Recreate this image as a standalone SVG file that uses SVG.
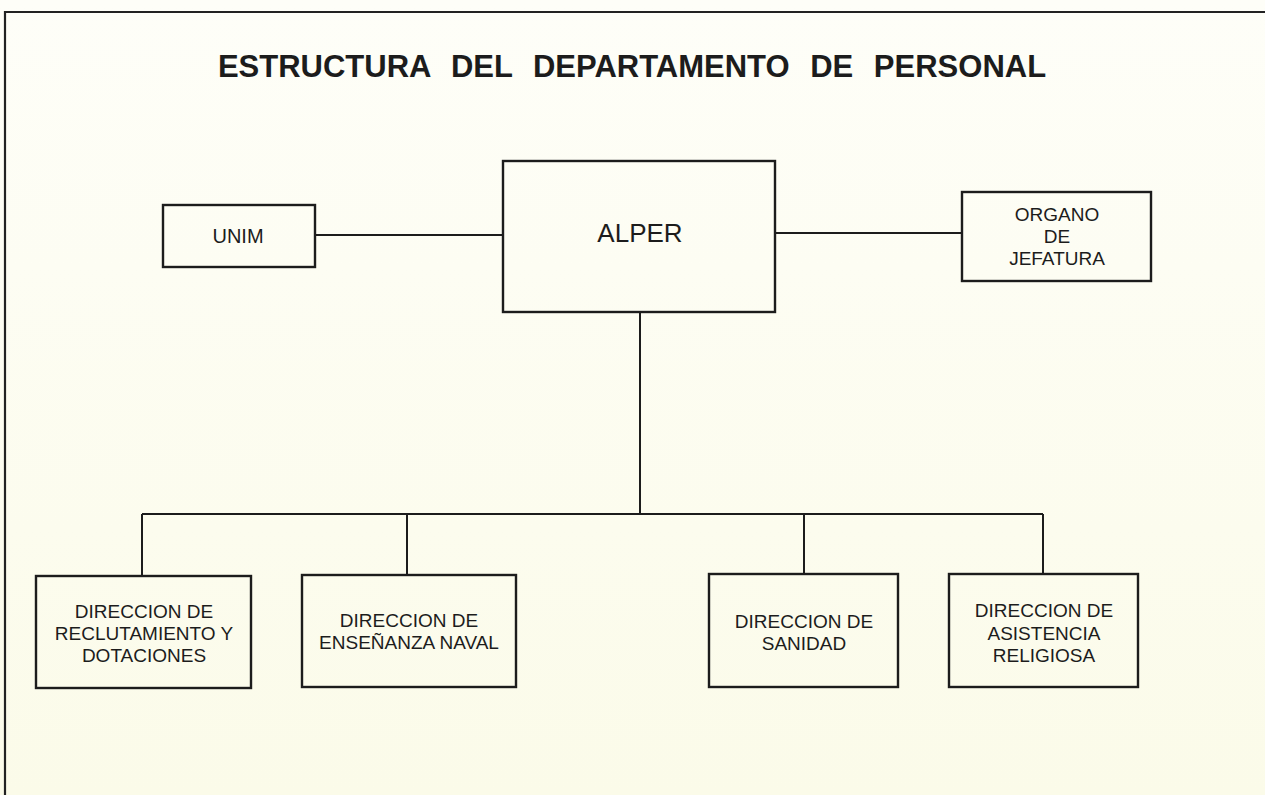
<svg xmlns="http://www.w3.org/2000/svg" width="1265" height="795" viewBox="0 0 1265 795">
<defs>
<linearGradient id="bg" x1="0" y1="0" x2="0" y2="1">
<stop offset="0" stop-color="#fefef8"/>
<stop offset="1" stop-color="#fbfbe9"/>
</linearGradient>
<style>
.box{fill:none;stroke:#1c1c1c;stroke-width:2.4}
.ln{fill:none;stroke:#1c1c1c;stroke-width:2}
.t{font-family:"Liberation Sans",Arial,sans-serif;fill:#1c1c1c;text-anchor:middle}
.s{font-size:19px}
</style>
</defs>
<rect x="0" y="0" width="1265" height="795" fill="url(#bg)"/>
<path d="M5,795 V12 H1265" fill="none" stroke="#222" stroke-width="2.2"/>
<text class="t" x="632" y="77" font-size="31" font-weight="bold" word-spacing="12">ESTRUCTURA DEL DEPARTAMENTO DE PERSONAL</text>
<g id="connectors">
<line class="ln" x1="315" y1="235" x2="503" y2="235"/>
<line class="ln" x1="775" y1="233" x2="962" y2="233"/>
<line class="ln" x1="640" y1="312" x2="640" y2="514"/>
<line class="ln" x1="142" y1="514" x2="1043" y2="514"/>
<line class="ln" x1="142" y1="514" x2="142" y2="576"/>
<line class="ln" x1="407" y1="514" x2="407" y2="575"/>
<line class="ln" x1="804" y1="514" x2="804" y2="574"/>
<line class="ln" x1="1043" y1="514" x2="1043" y2="574"/>
</g>
<g id="alper">
<rect class="box" x="503" y="161" width="272" height="151"/>
<text class="t" x="640" y="242" font-size="26">ALPER</text>
</g>
<g id="unim">
<rect class="box" x="163" y="205" width="152" height="62"/>
<text class="t" x="238" y="243" font-size="20">UNIM</text>
</g>
<g id="organo">
<rect class="box" x="962" y="192" width="189" height="89"/>
<text class="t s" x="1057" y="221">ORGANO</text>
<text class="t s" x="1057" y="243">DE</text>
<text class="t s" x="1057" y="265">JEFATURA</text>
</g>
<g id="reclutamiento">
<rect class="box" x="36" y="576" width="215" height="112"/>
<text class="t s" x="144" y="618">DIRECCION DE</text>
<text class="t s" x="144" y="640">RECLUTAMIENTO Y</text>
<text class="t s" x="144" y="662">DOTACIONES</text>
</g>
<g id="ensenanza">
<rect class="box" x="302" y="575" width="214" height="112"/>
<text class="t s" x="409" y="627">DIRECCION DE</text>
<text class="t s" x="409" y="649">ENSEÑANZA NAVAL</text>
</g>
<g id="sanidad">
<rect class="box" x="709" y="574" width="189" height="113"/>
<text class="t s" x="804" y="628">DIRECCION DE</text>
<text class="t s" x="804" y="650">SANIDAD</text>
</g>
<g id="religiosa">
<rect class="box" x="949" y="574" width="189" height="113"/>
<text class="t s" x="1044" y="617">DIRECCION DE</text>
<text class="t s" x="1044" y="640">ASISTENCIA</text>
<text class="t s" x="1044" y="662">RELIGIOSA</text>
</g>
</svg>
